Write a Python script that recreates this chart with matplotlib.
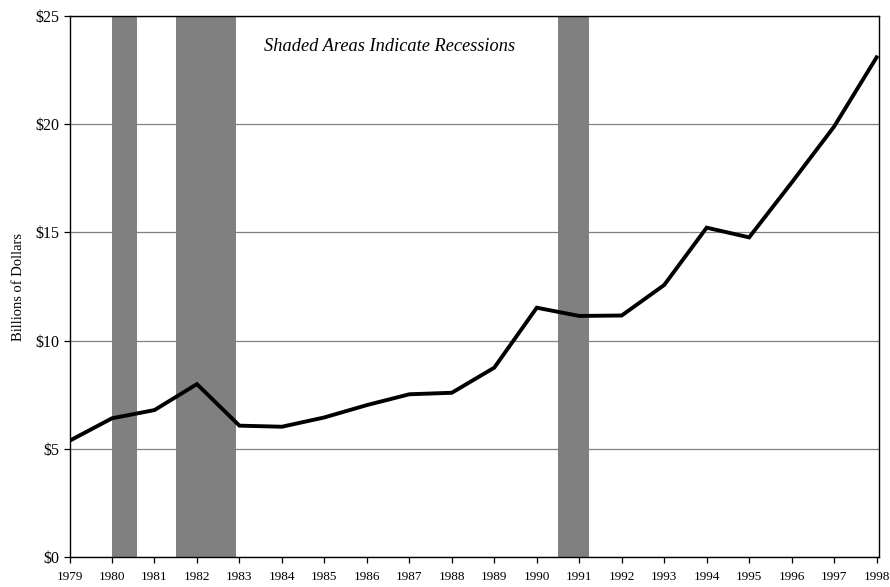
import matplotlib
matplotlib.use("Agg")
import matplotlib.pyplot as plt

years = list(range(1979, 1999))
values = [5.37, 6.41, 6.79, 7.99, 6.07, 6.02, 6.45, 7.02, 7.52, 7.59,
          8.75, 11.52, 11.14, 11.16, 12.57, 15.22, 14.77, 17.3, 19.89, 23.09]
recession_starts = [1980.0, 1981.5, 1990.5]
recession_ends = [1980.58, 1982.92, 1991.22]
y_ticks = [0, 5, 10, 15, 20, 25]
y_tick_labels = ["$0", "$5", "$10", "$15", "$20", "$25"]

plt.rcParams['font.family'] = ['Liberation Serif', 'DejaVu Serif']

fig = plt.figure(figsize=(8.9, 5.87), dpi=100)
ax = fig.add_axes([0.0781, 0.0511, 0.9092, 0.9216])

for s, e in zip(recession_starts, recession_ends):
    ax.axvspan(s, e, color='#808080', zorder=2, lw=0)

ax.plot(years, values, color='black', lw=2.8, zorder=3, solid_joinstyle='miter')

ax.set_xlim(1979, 1998.05)
ax.set_ylim(0, 25)
ax.set_yticks(y_ticks)
ax.set_yticklabels(y_tick_labels, fontsize=11.5)
ax.set_xticks(years)
ax.set_xticklabels([str(y) for y in years], fontsize=9.5)
ax.yaxis.grid(True, color='#808080', lw=0.9, zorder=1)
ax.set_axisbelow(True)
ax.tick_params(axis='both', direction='out', length=4, width=0.9, colors='black')
ax.tick_params(axis='x', pad=6)
ax.tick_params(axis='y', pad=3)
for sp in ax.spines.values():
    sp.set_color('black')
    sp.set_linewidth(1.0)
    sp.set_zorder(4)

ax.set_ylabel("Billions of Dollars", fontsize=10.5, labelpad=8)
ax.text(0.395, 0.944, "Shaded Areas Indicate Recessions", transform=ax.transAxes,
        ha='center', va='center', fontsize=13.2, style='italic')

fig.savefig("out.png", dpi=100)
